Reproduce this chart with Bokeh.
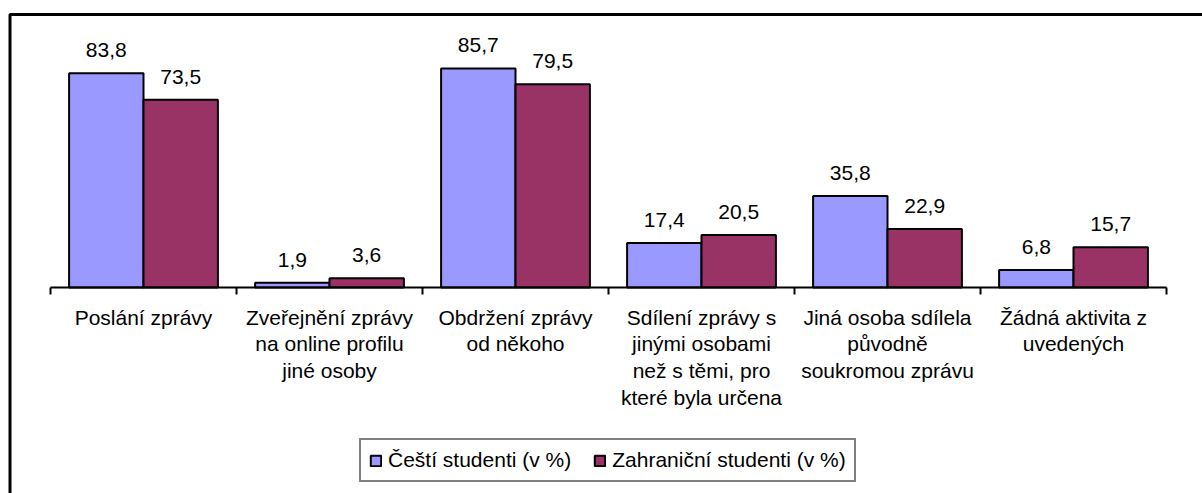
from bokeh.plotting import figure
from bokeh.models import (Range1d, FixedTicker, LinearAxis, Legend, LegendItem,
                          BoxAnnotation, ColumnDataSource)
from bokeh.core.properties import value
from bokeh.embed import file_html
from bokeh.resources import INLINE

categories = [
    "Poslání zprávy",
    "Zveřejnění zprávy\nna online profilu\njiné osoby",
    "Obdržení zprávy\nod někoho",
    "Sdílení zprávy s\njinými osobami\nnež s těmi, pro\nkteré byla určena",
    "Jiná osoba sdílela\npůvodně\nsoukromou zprávu",
    "Žádná aktivita z\nuvedených",
]
czech = [83.8, 1.9, 85.7, 17.4, 35.8, 6.8]
foreign = [73.5, 3.6, 79.5, 20.5, 22.9, 15.7]
series_names = ["Čeští studenti (v %)", "Zahraniční studenti (v %)"]
colors = ["#9999FF", "#993366"]

FONT = "Liberation Sans"
FS = "21px"

# layout (pixels)
W, H = 1202, 493
AXIS_X0, CAT_W = 50, 186          # left end of axis, width of one category
BASE_Y, PX_PER_UNIT = 287, 2.556  # baseline y, pixels per percent

n = len(categories)
idx = list(range(n))
src = ColumnDataSource(dict(
    x1=[i + 0.3 for i in idx],
    x2=[i + 0.7 for i in idx],
    czech=czech,
    foreign=foreign,
    czech_lbl=[f"{v:.1f}".replace(".", ",") for v in czech],
    foreign_lbl=[f"{v:.1f}".replace(".", ",") for v in foreign],
))

p = figure(width=W, height=H,
           x_range=Range1d(-AXIS_X0 / CAT_W, (W - AXIS_X0) / CAT_W),
           y_range=Range1d(-(H - BASE_Y) / PX_PER_UNIT, BASE_Y / PX_PER_UNIT),
           output_backend="svg", toolbar_location=None,
           x_axis_location=None, y_axis_location=None,
           min_border=0)
p.outline_line_color = None
p.xgrid.visible = False
p.ygrid.visible = False
p.background_fill_color = "white"
p.border_fill_color = "white"

centers = [i + 0.5 for i in idx]
xaxis = LinearAxis(
    fixed_location=0, bounds=(0, n),
    ticker=FixedTicker(ticks=centers, minor_ticks=list(range(n + 1))),
    major_label_overrides={c: lab for c, lab in zip(centers, categories)},
    axis_line_color="black", axis_line_width=2,
    major_tick_line_color=None, major_tick_in=0, major_tick_out=0,
    minor_tick_line_color="black", minor_tick_line_width=2,
    minor_tick_in=0, minor_tick_out=7,
    major_label_text_font=FONT, major_label_text_font_size=FS,
    major_label_text_color="black", major_label_standoff=11,
    major_label_text_line_height=1.17,
)
p.add_layout(xaxis, "below")

r1 = p.vbar(x="x1", top="czech", bottom=0, width=0.4, source=src,
            fill_color=colors[0], line_color="black", line_width=2)
r2 = p.vbar(x="x2", top="foreign", bottom=0, width=0.4, source=src,
            fill_color=colors[1], line_color="black", line_width=2)

for xcol, ycol, lcol in [("x1", "czech", "czech_lbl"), ("x2", "foreign", "foreign_lbl")]:
    p.text(x=xcol, y=ycol, text=lcol, source=src, text_align="center",
           text_baseline="alphabetic", y_offset=-23,
           text_font=value(FONT), text_font_size=FS, text_color="black")

legend = Legend(
    items=[LegendItem(label=series_names[0], renderers=[r1]),
           LegendItem(label=series_names[1], renderers=[r2])],
    orientation="horizontal", location=(359, 11),
    label_text_font=FONT, label_text_font_size=FS, label_text_color="black",
    glyph_width=13, glyph_height=13, label_standoff=6, spacing=22,
    padding=8, margin=0, border_line_color="black", border_line_width=2,
    background_fill_color="white", background_fill_alpha=1.0,
)
p.add_layout(legend)

p.add_layout(BoxAnnotation(left=9.5, right=3000, top=14, bottom=3000,
                           left_units="canvas", right_units="canvas",
                           top_units="canvas", bottom_units="canvas",
                           fill_color=None, fill_alpha=0,
                           line_color="black", line_alpha=1.0, line_width=3))

open("out.html", "w").write(file_html(p, INLINE))
